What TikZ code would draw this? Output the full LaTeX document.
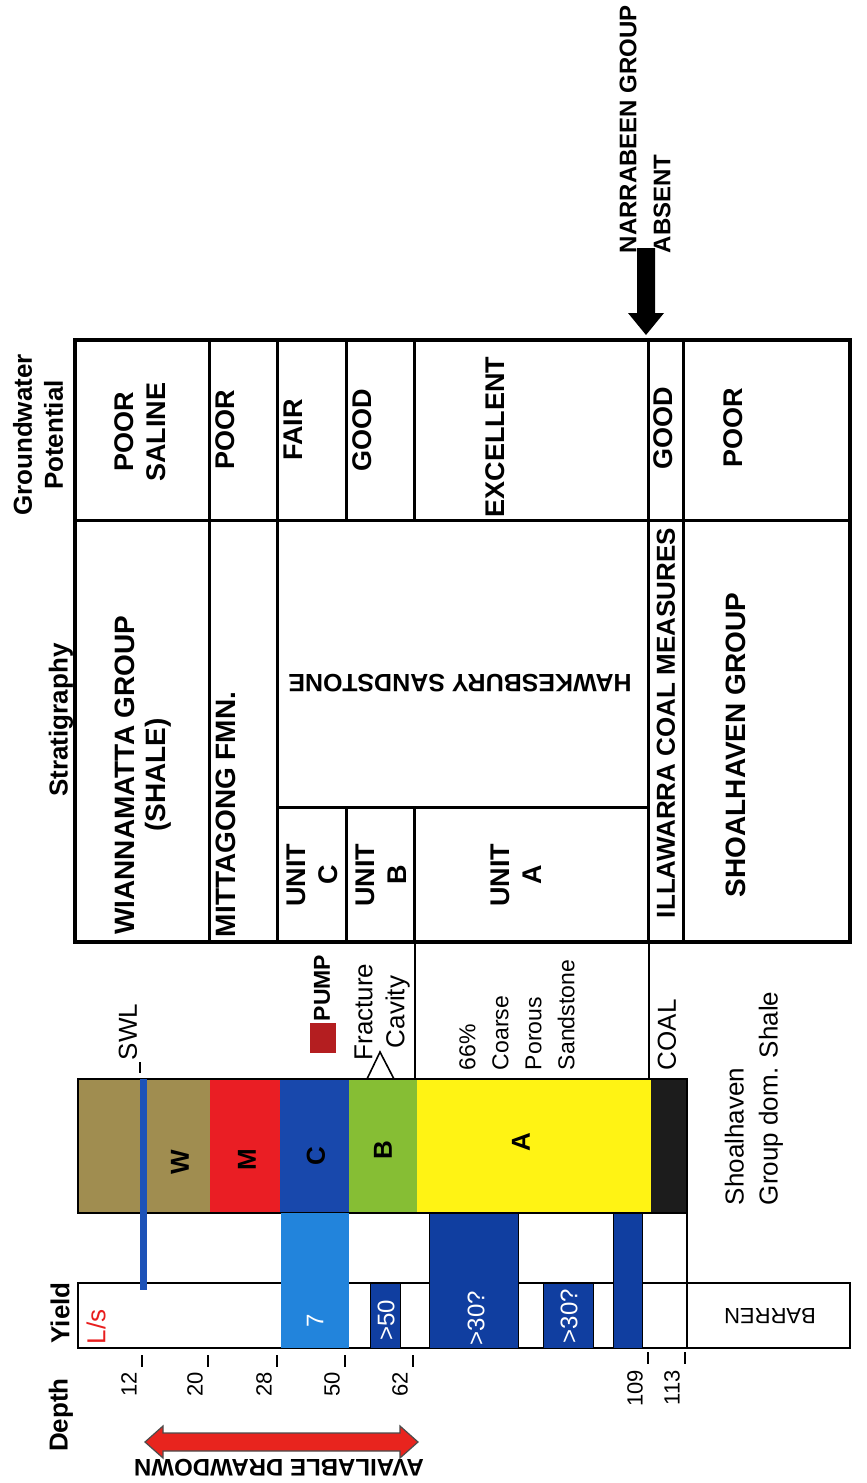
\documentclass[tikz,border=0pt]{standalone}
\usepackage{fontspec}
\setmainfont{Liberation Sans}
\definecolor{olivew}{RGB}{160,141,80}
\definecolor{redm}{RGB}{234,30,36}
\definecolor{bluec}{RGB}{24,72,172}
\definecolor{greenb}{RGB}{134,190,52}
\definecolor{yellowa}{RGB}{255,243,20}
\definecolor{coalc}{RGB}{28,28,28}
\definecolor{lblue}{RGB}{34,132,220}
\definecolor{dblue}{RGB}{16,62,160}
\definecolor{swlblue}{RGB}{28,82,184}
\definecolor{pumpred}{RGB}{180,30,32}
\definecolor{arrowred}{RGB}{232,36,30}
\definecolor{lsred}{RGB}{232,30,30}
\begin{document}
\begin{tikzpicture}[x=0.5pt,y=-0.5pt,
  lab/.style={inner sep=0pt,outer sep=0pt,align=center,rotate=90,font=\fontsize{13}{16}\selectfont},
  blab/.style={lab,font=\bfseries\fontsize{13.5}{16}\selectfont},
  hlab/.style={lab,font=\bfseries\fontsize{13}{15.5}\selectfont},
  dlab/.style={lab,anchor=east,font=\fontsize{11}{13}\selectfont},
  wlab/.style={lab,text=white,font=\fontsize{12}{14}\selectfont},
  flip/.style={inner sep=0pt,outer sep=0pt,align=center,rotate=180},
  tline/.style={line width=1.5pt},
  thinl/.style={line width=1pt},
  tick/.style={line width=0.9pt},
  bar/.style={fill=dblue,draw=black,line width=0.5pt}]
\useasboundingbox (0,0) rectangle (867,1483);
\fill[white] (0,0) rectangle (867,1483);

% ---------- table ----------
\draw[tline] (75,520) -- (850,520);
\draw[tline] (209,340) -- (209,942);
\draw[tline] (277,340) -- (277,942);
\draw[tline] (346,340) -- (346,520);
\draw[tline] (414,340) -- (414,520);
\draw[tline] (346,807) -- (346,942);
\draw[tline] (414,807) -- (414,942);
\draw[tline] (277,807) -- (648,807);
\draw[tline] (648,340) -- (648,942);
\draw[tline] (683,340) -- (683,942);
\draw[line width=2pt] (75,340) rectangle (850,942);

% headers
\node[hlab] (gwp) at (38,435) {Groundwater\\Potential};
\node[hlab] (strat) at (61,720) {Stratigraphy};

% groundwater potential
\node[blab] (gw1) at (140,432) {POOR\\SALINE};
\node[blab] (gw2) at (225,430) {POOR};
\node[blab] (gw3) at (293,430) {FAIR};
\node[blab] (gw4) at (362,430) {GOOD};
\node[blab] (gw5) at (495,437) {EXCELLENT};
\node[blab] (gw6) at (663,428) {GOOD};
\node[blab] (gw7) at (733,428) {POOR};

% stratigraphy
\node[blab,font=\bfseries\fontsize{14}{15.5}\selectfont] (s1) at (143,775) {WIANNAMATTA GROUP\\(SHALE)};
\node[blab,font=\bfseries\fontsize{14}{15.5}\selectfont,anchor=west] (s2) at (226,937) {MITTAGONG FMN.};
\node[blab] (s3) at (312,875) {UNIT\\C};
\node[blab] (s4) at (381,875) {UNIT\\B};
\node[blab] (s5) at (516,875) {UNIT\\A};
\node[flip,font=\bfseries\fontsize{12.5}{15}\selectfont] (hawk) at (460,683) {HAWKESBURY SANDSTONE};
\node[blab,font=\bfseries\fontsize{13}{15}\selectfont] (s6) at (666,723) {ILLAWARRA COAL MEASURES};
\node[blab,font=\bfseries\fontsize{14}{15}\selectfont] (s7) at (736,745) {SHOALHAVEN GROUP};

% Narrabeen arrow
\node[blab,font=\bfseries\fontsize{12}{17}\selectfont,anchor=west,align=left] (narr) at (645,253) {NARRABEEN GROUP\\ABSENT};
\fill[black] (637,248) -- (655,248) -- (655,313) -- (664,313) -- (646,335) -- (628,313) -- (637,313) -- cycle;

% ---------- between table and column ----------
\draw[thinl] (415,942) -- (415,1079);
\draw[thinl] (649,942) -- (649,1079);

\node[lab] (swl) at (128,1032) {SWL};
\draw[tick] (140,1062) -- (140,1073);
\node[lab,font=\bfseries\fontsize{11.5}{14}\selectfont] (pump) at (322,988) {PUMP};
\fill[pumpred] (310,1023) rectangle (336,1053);
\node[lab,font=\fontsize{13}{16}\selectfont] (frac) at (382,1012) {Fracture\\Cavity};
\draw[line width=0.8pt] (367,1079) -- (380,1052) -- (394,1079);
\node[lab,anchor=west,align=left,font=\fontsize{11.5}{16.5}\selectfont] (sand) at (517,1070) {66\%\\Coarse\\Porous\\Sandstone};
\node[lab,anchor=west] (coal) at (667,1070) {COAL};
\node[lab,anchor=west,align=left,font=\fontsize{13}{17}\selectfont] (shoal) at (754,1205) {Shoalhaven\\Group dom. Shale};

% ---------- lithology column ----------
\fill[olivew] (78,1079) rectangle (210,1213);
\fill[redm] (210,1079) rectangle (280,1213);
\fill[bluec] (280,1079) rectangle (349,1213);
\fill[greenb] (349,1079) rectangle (417,1213);
\fill[yellowa] (417,1079) rectangle (651,1213);
\fill[coalc] (651,1079) rectangle (687,1213);
\draw[thinl] (78,1079) rectangle (687,1213);
\node[lab,font=\bfseries\fontsize{13}{15}\selectfont] (lw) at (180,1162) {W};
\node[lab,font=\bfseries\fontsize{13}{15}\selectfont] (lm) at (247,1160) {M};
\node[lab,font=\bfseries\fontsize{13}{15}\selectfont] (lc) at (316,1156) {C};
\node[lab,font=\bfseries\fontsize{13}{15}\selectfont] (lb) at (383,1150) {B};
\node[lab,font=\bfseries\fontsize{13}{15}\selectfont] (la) at (521,1142) {A};

% ---------- yield column ----------
\draw[thinl] (78,1283) rectangle (850,1348);
\draw[thinl] (687,1213) -- (687,1348);
\fill[lblue] (281,1213) rectangle (349,1348);
\path[bar] (370,1283) rectangle (400,1348);
\path[bar] (429,1213) rectangle (518,1348);
\path[bar] (543,1283) rectangle (593,1348);
\path[bar] (613,1213) rectangle (642,1348);
\draw[swlblue,line width=3.5pt] (143,1079) -- (143,1290);

\node[lab,text=lsred,font=\fontsize{13}{15}\selectfont] (ls) at (96,1327) {L/s};
\node[wlab] (y7) at (315,1321) {7};
\node[wlab] (y50) at (386,1320) {>50};
\node[wlab] (y30a) at (476,1318) {>30?};
\node[wlab] (y30b) at (569,1316) {>30?};
\node[flip,font=\fontsize{11}{13}\selectfont] (barren) at (770,1316) {BARREN};

% ---------- depth ----------
\node[hlab] (yield) at (60,1313) {Yield};
\node[hlab] (depth) at (61,1415) {Depth};
\node[dlab] (d12) at (129,1372) {12};
\draw[tick] (142,1355) -- (142,1367);
\node[dlab] (d20) at (195,1372) {20};
\draw[tick] (208,1355) -- (208,1367);
\node[dlab] (d28) at (264,1372) {28};
\draw[tick] (277,1355) -- (277,1367);
\node[dlab] (d50) at (332,1372) {50};
\draw[tick] (345,1355) -- (345,1367);
\node[dlab] (d62) at (400,1372) {62};
\draw[tick] (413,1355) -- (413,1367);
\node[dlab] (d109) at (635,1370) {109};
\draw[tick] (648,1352) -- (648,1364);
\node[dlab] (d113) at (672,1370) {113};
\draw[tick] (685,1352) -- (685,1364);

% available drawdown arrow
\filldraw[fill=arrowred,draw=black!70,line width=0.6pt]
  (145,1442) -- (163,1426) -- (163,1433) -- (400,1433) -- (400,1426) -- (418,1442)
  -- (400,1458) -- (400,1451) -- (163,1451) -- (163,1458) -- cycle;
\node[flip,font=\bfseries\fontsize{12}{14}\selectfont] (avd) at (279,1468) {AVAILABLE DRAWDOWN};
\end{tikzpicture}
\end{document}
